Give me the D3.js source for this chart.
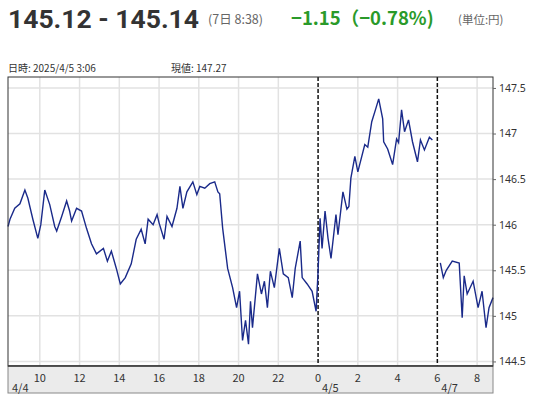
<!DOCTYPE html>
<html><head><meta charset="utf-8">
<script src="https://cdn.jsdelivr.net/npm/d3@7"></script>
<style>body{margin:0;background:#fff;font-family:"Noto Sans CJK JP","Noto Sans",sans-serif}</style>
</head><body>
<script>
// hour index: 4/4 h, 4/5 = 24+h, 4/7 continues after 4/5 6:00 (30 = 4/7 6:00)
var seg1Hours = [8.4,8.5,8.74,9.0,9.25,9.4,9.65,9.9,10.05,10.25,10.5,10.75,10.85,11.1,11.35,11.5,11.6,11.85,12.1,12.35,12.6,12.85,13.2,13.4,13.6,13.85,14.05,14.3,14.6,14.85,15.1,15.3,15.45,15.7,15.9,16.0,16.25,16.4,16.65,16.9,17.05,17.2,17.4,17.7,17.9,18.05,18.3,18.55,18.8,18.96,19.05,19.2,19.45,19.7,19.9,20.05,20.2,20.35,20.5,20.6,20.7,20.95,21.15,21.3,21.45,21.6,21.8,22.05,22.25,22.5,22.7,22.85,23.1,23.2,23.45,23.7,23.9,24.0,24.1,24.2,24.35,24.5,24.65,24.9,25.0,25.25,25.45,25.55,25.65,25.85,26.0,26.35,26.5,26.7,26.9,27.05,27.25,27.3,27.5,27.75,27.95,28.05,28.2,28.35,28.55,28.75,29.0,29.15,29.35,29.6,29.75];
var seg1Values = [145.98,146.06,146.18,146.23,146.38,146.29,146.06,145.85,146.0,146.38,146.22,145.98,145.93,146.09,146.26,146.15,146.04,146.18,146.15,145.96,145.79,145.68,145.74,145.6,145.71,145.52,145.35,145.42,145.57,145.84,145.95,145.79,146.06,146.0,146.11,146.02,145.84,146.09,145.98,146.18,146.42,146.18,146.36,146.47,146.33,146.42,146.4,146.45,146.47,146.36,146.34,145.96,145.52,145.31,145.09,145.27,144.73,144.95,144.69,145.16,144.87,145.46,145.24,145.38,145.09,145.49,145.31,145.74,145.46,145.42,145.2,145.52,145.82,145.42,145.35,145.27,145.05,145.49,146.07,145.74,146.15,145.85,145.63,146.11,145.89,146.36,146.17,146.2,146.51,146.75,146.58,146.88,146.85,147.13,147.27,147.38,147.16,146.91,146.83,146.66,146.94,146.9,147.26,147.02,147.15,146.91,146.69,146.93,146.82,146.96,146.93];
var seg2Hours = [30.15,30.3,30.45,30.75,31.1,31.25,31.35,31.5,31.8,32.05,32.25,32.45,32.6,32.8];
var seg2Values = [145.58,145.42,145.5,145.6,145.58,144.98,145.44,145.24,145.38,145.09,145.27,144.87,145.09,145.2];
var xTicks = [10,12,14,16,18,20,22,24,26,28,30,32];
var xTickLabels = ["10","12","14","16","18","20","22","0","2","4","6","8"];
var dayBreaks = [24,30];
var dayLabels = [[8.4,"4/4"],[24,"4/5"],[30,"4/7"]];
var yTicks = [144.5,145,145.5,146,146.5,147,147.5];

var W=536,H=400,L=8,R=493,T=77,B=366;
var svg=d3.select("body").append("svg").attr("width",W).attr("height",H);
var x=d3.scaleLinear().domain([8.4,32.8]).range([L,R]);
var y=d3.scaleLinear().domain([144.45,147.62]).range([B,T]);

// header
svg.append("text").attr("x",8).attr("y",28).attr("font-size",26.5).attr("font-weight","bold").attr("fill","#333").attr("font-family","Roboto, sans-serif").text("145.12 - 145.14");
svg.append("text").attr("x",208).attr("y",24).attr("font-size",12.5).attr("fill","#666").text("(7日 8:38)");
svg.append("text").attr("x",291).attr("y",25).attr("font-size",18.5).attr("font-weight","bold").attr("fill","#2a9a2a").text("−1.15（−0.78%)");
svg.append("text").attr("x",458).attr("y",24).attr("font-size",11.5).attr("fill","#666").text("(単位:円)");
svg.append("text").attr("x",8).attr("y",72).attr("font-size",10).attr("fill","#333").text("日時: 2025/4/5  3:06");
svg.append("text").attr("x",171).attr("y",72).attr("font-size",10).attr("fill","#333").text("現値: 147.27");

// grid
svg.append("g").selectAll("line").data(xTicks.filter(d=>dayBreaks.indexOf(d)<0)).join("line")
  .attr("x1",d=>x(d)).attr("x2",d=>x(d)).attr("y1",T).attr("y2",B).attr("stroke","#e2e2e2").attr("stroke-width",1.5);
svg.append("g").selectAll("line").data(yTicks).join("line")
  .attr("x1",L).attr("x2",R).attr("y1",d=>y(d)).attr("y2",d=>y(d)).attr("stroke","#e2e2e2").attr("stroke-width",1.5);
svg.append("g").selectAll("line").data(dayBreaks).join("line")
  .attr("x1",d=>x(d)).attr("x2",d=>x(d)).attr("y1",T).attr("y2",B).attr("stroke","#111").attr("stroke-width",1.5).attr("stroke-dasharray","4,2");

// line
var line=d3.line().x(d=>x(d[0])).y(d=>y(d[1]));
[[seg1Hours,seg1Values],[seg2Hours,seg2Values]].forEach(function(s){
  svg.append("path").datum(s[0].map((h,i)=>[h,s[1][i]])).attr("d",line)
    .attr("fill","none").attr("stroke","#1a2a8a").attr("stroke-width",1.4);
});

// frame
svg.append("rect").attr("x",L).attr("y",T).attr("width",R-L).attr("height",B-T).attr("fill","none").attr("stroke","#333");
// x band
svg.append("rect").attr("x",L).attr("y",B).attr("width",R-L).attr("height",27).attr("fill","#ebebeb").attr("stroke","#888");
svg.append("line").attr("x1",L).attr("x2",R).attr("y1",B).attr("y2",B).attr("stroke","#333").attr("stroke-width",1.5);
svg.append("g").selectAll("text").data(xTicks).join("text")
  .attr("x",d=>x(d)).attr("y",382).attr("text-anchor","middle").attr("font-size",11).attr("fill","#333")
  .text((d,i)=>xTickLabels[i]);
svg.append("g").selectAll("text").data(dayLabels).join("text")
  .attr("x",d=>x(d[0])+4).attr("y",392).attr("font-size",11).attr("fill","#333").text(d=>d[1]);

// y axis
var ya=svg.append("g").attr("transform","translate("+R+",0)").call(d3.axisRight(y).tickValues(yTicks).tickSize(3).tickFormat(d3.format("")));
ya.select(".domain").remove();
ya.selectAll("text").attr("font-size",10.5).attr("fill","#333").attr("font-family","Noto Sans, sans-serif");
ya.selectAll("line").attr("stroke","#666");
</script>
</body></html>
